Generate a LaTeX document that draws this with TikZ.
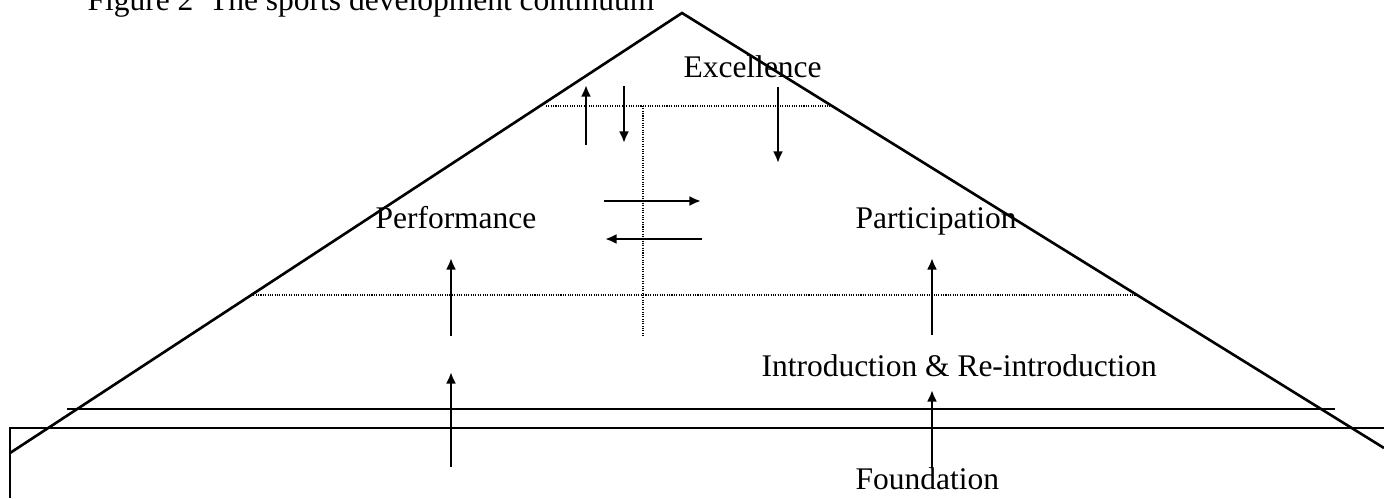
\documentclass[tikz,border=0pt]{standalone}
\usepackage{fontspec}
\setmainfont{Liberation Serif}
\usetikzlibrary{arrows.meta}
\usetikzlibrary{math}
\tikzstyle{arrow} = [->, line width=0.9pt]
\tikzstyle{edge} = [line width=1pt]
\tikzstyle{guide} = [line width=0.4pt, dash pattern=on 0.4pt off 0.5pt]
\tikzstyle{stage} = [anchor=base west, inner sep=0pt, font=\fontsize{12}{14}\selectfont]

\begin{document}
\begin{tikzpicture}[x=0.381pt, y=-0.381pt, >={Latex[length=4.4pt,width=3.8pt]}]

  \tikzmath{\xmax = 1384; \ymax = 498; \ax = 682; \ay = 13;}
  \useasboundingbox (0,0) rectangle (\xmax,\ymax);

  % pyramid and base
  \draw[edge] (10,453) -- (\ax,\ay) -- (\xmax,448);
  \draw[edge] (67,409) -- (1335,409);
  \draw[edge] (10,\ymax) -- (10,428) -- (\xmax,428);

  % level borders
  \draw[guide] (546,106) -- (830,106);
  \draw[guide] (251,295) -- (1138,295);
  \draw[guide] (643,106) -- (643,336);

  % labels
  \node[stage] (title) at (87,10) {Figure 2\ \ The sports development continuum};
  \node[stage] (excellence) at (683,77) {Excellence};
  \node[stage] (performance) at (375,228) {Performance};
  \node[stage] (participation) at (855,228) {Participation};
  \node[stage] (intro) at (761,376) {Introduction \& Re-introduction};
  \node[stage] (foundation) at (855,489) {Foundation};

  % flows
  \draw[arrow] (586,145) -- (586,85);
  \draw[arrow] (624,86) -- (624,143);
  \draw[arrow] (778,87) -- (778,163);
  \draw[arrow] (604,201) -- (701,201);
  \draw[arrow] (702,239) -- (605,239);
  \draw[arrow] (451,336) -- (451,258);
  \draw[arrow] (451,467) -- (451,372);
  \draw[arrow] (932,335) -- (932,258);
  \draw[arrow] (932,468) -- (932,390);

\end{tikzpicture}
\end{document}
